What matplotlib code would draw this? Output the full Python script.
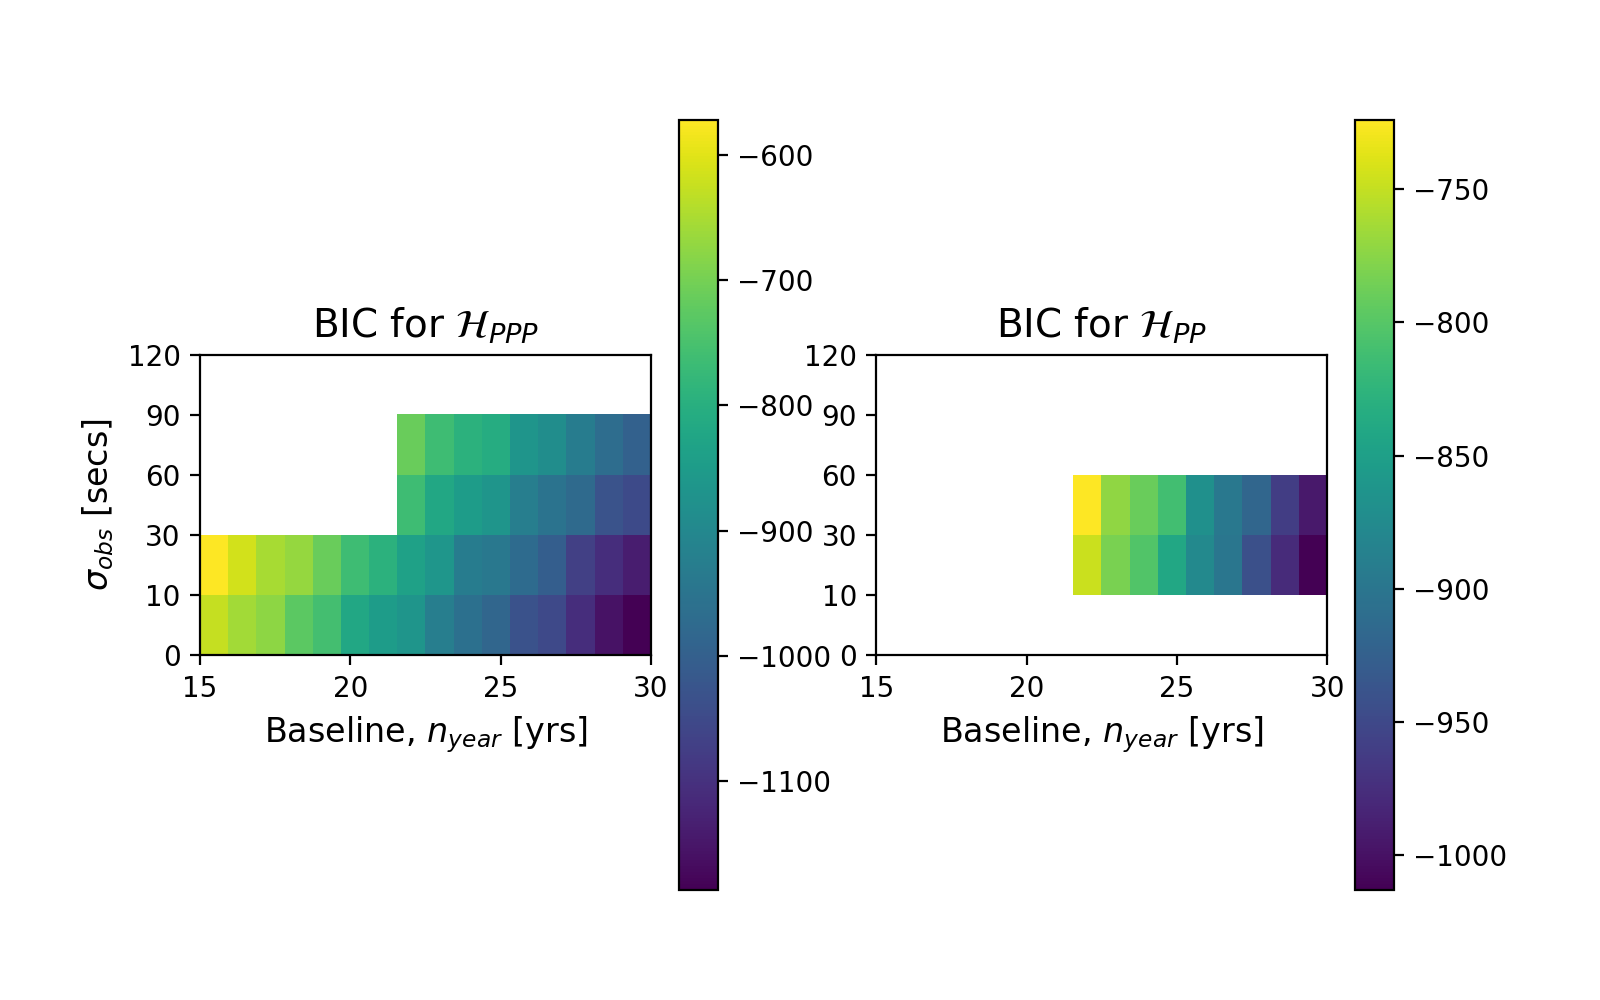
import numpy as np
from matplotlib import pyplot as plt

# Grid: 16 baseline columns from 15 to 30 yrs, 5 sigma rows (bottom to top)
sigma_labels = ['0', '10', '30', '60', '90', '120']
baseline_ticks = [15, 20, 25, 30]
nan = np.nan

# BIC for H_PPP, rows: 0-10, 10-30, 30-60, 60-90, 90-120
bic_ppp_row0 = [-627, -658, -677, -726, -756, -818, -846, -867,
                -923, -959, -984, -1033, -1052, -1107, -1156, -1187]
bic_ppp_row1 = [-572, -615, -652, -670, -713, -763, -793, -836,
                -864, -929, -941, -972, -1003, -1070, -1107, -1138]
bic_ppp_row2 = [nan] * 7 + [-763, -818, -846, -867, -923, -953, -975, -1030, -1049]
bic_ppp_row3 = [nan] * 7 + [-713, -763, -793, -806, -867, -886, -929, -966, -996]
bic_ppp_row4 = [nan] * 16

# BIC for H_PP
bic_pp_row0 = [nan] * 16
bic_pp_row1 = [nan] * 7 + [-747, -782, -802, -840, -877, -900, -942, -978, -1013]
bic_pp_row2 = [nan] * 7 + [-724, -772, -790, -812, -868, -897, -918, -961, -993]
bic_pp_row3 = [nan] * 16
bic_pp_row4 = [nan] * 16

bic_ppp = np.array([bic_ppp_row0, bic_ppp_row1, bic_ppp_row2, bic_ppp_row3, bic_ppp_row4])
bic_pp = np.array([bic_pp_row0, bic_pp_row1, bic_pp_row2, bic_pp_row3, bic_pp_row4])

fig, axes = plt.subplots(1, 2, figsize=(8, 5), dpi=200)

y_ticks = np.arange(len(sigma_labels)) * 2

for ax, data, title in [(axes[0], bic_ppp, r'BIC for $\mathcal{H}_{PPP}$'),
                        (axes[1], bic_pp, r'BIC for $\mathcal{H}_{PP}$')]:
    im = ax.imshow(data, origin='lower', cmap='viridis', interpolation='nearest',
                   extent=[15, 30, 0, 10])
    ax.set_xlim(15, 30)
    ax.set_ylim(0, 10)
    ax.set_xticks(baseline_ticks)
    ax.set_yticks(y_ticks)
    ax.set_yticklabels(sigma_labels)
    ax.set_xlabel(r'Baseline, $n_{year}$ [yrs]', fontsize=12)
    ax.set_title(title, fontsize=14)
    fig.colorbar(im, ax=ax)

axes[0].set_ylabel(r'$\sigma_{obs}$ [secs]', fontsize=12)

fig.savefig('out.png', dpi=200)
